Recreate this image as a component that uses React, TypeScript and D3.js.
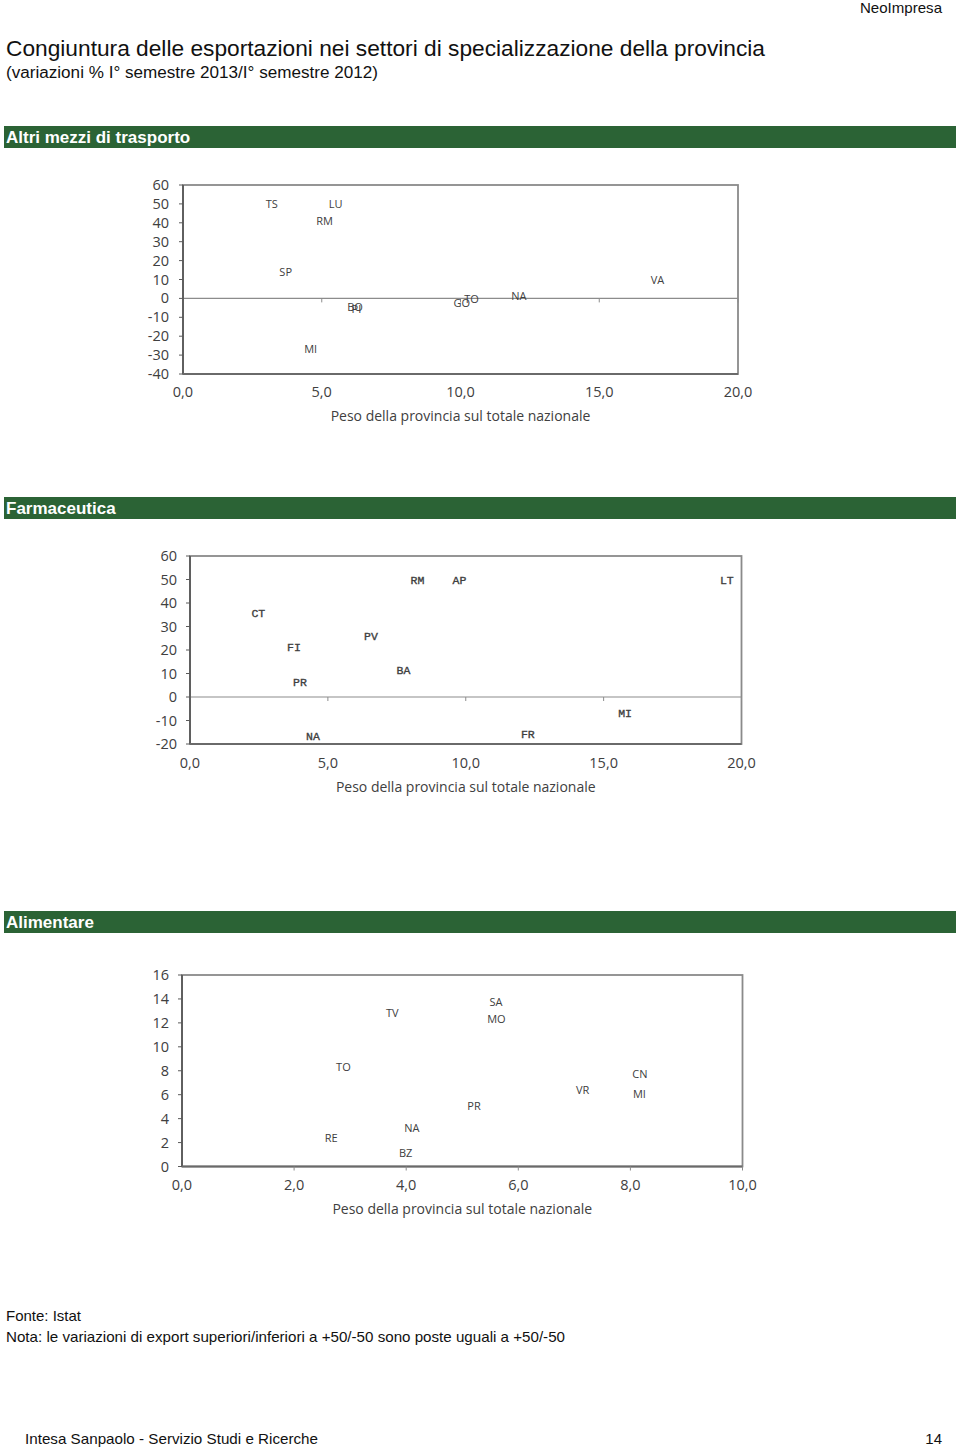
import React from "react";
import * as d3 from "d3";

// ---------- Data ----------
// Altri mezzi di trasporto
const trLabels = ["TS", "LU", "RM", "SP", "MI", "BO", "PI", "GO", "TO", "NA", "VA"];
const trX = [3.2, 5.5, 5.1, 3.7, 4.6, 6.2, 6.25, 10.05, 10.4, 12.1, 17.1];
const trY = [50, 50, 41, 14, -27, -4.4, -5.8, -2.6, -0.5, 1.3, 9.7];
const trYTicks = [60, 50, 40, 30, 20, 10, 0, -10, -20, -30, -40];
const trXTicks = [0, 5, 10, 15, 20];

// Farmaceutica
const faLabels = ["CT", "FI", "PR", "PV", "BA", "RM", "AP", "NA", "LT", "MI", "FR"];
const faX = [2.48, 3.77, 3.99, 6.56, 7.74, 8.25, 9.77, 4.46, 19.47, 15.78, 12.25];
const faY = [35.6, 21.1, 6.4, 25.9, 11.5, 50, 50, -16.7, 50, -6.7, -15.7];
const faYTicks = [60, 50, 40, 30, 20, 10, 0, -10, -20];
const faXTicks = [0, 5, 10, 15, 20];

// Alimentare
const alLabels = ["TV", "TO", "RE", "NA", "BZ", "SA", "MO", "PR", "VR", "CN", "MI"];
const alX = [3.75, 2.88, 2.66, 4.1, 3.99, 5.6, 5.61, 5.21, 7.15, 8.17, 8.16];
const alY = [12.8, 8.3, 2.37, 3.2, 1.12, 13.7, 12.3, 5.07, 6.34, 7.74, 6.07];
const alYTicks = [16, 14, 12, 10, 8, 6, 4, 2, 0];
const alXTicks = [0, 2, 4, 6, 8, 10];

const GREEN = "#2b6335";
const SANS = "'Liberation Sans', Arial, Helvetica, sans-serif";
const CHART_FONT = "'Open Sans', 'Noto Sans', sans-serif";
const fmtX = (v: number) => v.toFixed(1).replace(".", ",");

type ScatterProps = {
  left: number; right: number; top: number; bottom: number;
  xDomain: [number, number]; yDomain: [number, number];
  xTicks: number[]; yTicks: number[];
  labels: string[]; xs: number[]; ys: number[];
  labelFont: string; labelStroke?: number; labelSize: number;
  xTicksOnZero: boolean;
  titleY: number; tickLabelY: number; yLabelX: number;
};

function Scatter(p: ScatterProps) {
  const x = d3.scaleLinear().domain(p.xDomain).range([p.left, p.right]);
  const y = d3.scaleLinear().domain(p.yDomain).range([p.bottom, p.top]);
  const zeroY = y(0);
  const tickBase = p.xTicksOnZero ? zeroY : p.bottom;
  return (
    <g>
      <rect x={p.left} y={p.top} width={p.right - p.left} height={p.bottom - p.top}
        fill="none" stroke="#8a8a8a" strokeWidth={1.8} />
      {p.xTicksOnZero && (
        <line x1={p.left} x2={p.right} y1={zeroY} y2={zeroY} stroke="#8c8c8c" strokeWidth={1.2} />
      )}
      <line x1={p.left} x2={p.left} y1={p.top} y2={p.bottom} stroke="#5a5a5a" strokeWidth={1.8} />
      <line x1={p.left} x2={p.right} y1={p.bottom} y2={p.bottom} stroke="#6a6a6a" strokeWidth={1.8} />
      {p.yTicks.map((t) => (
        <g key={"yt" + t}>
          <line x1={p.left - 4} x2={p.left} y1={y(t)} y2={y(t)} stroke="#5a5a5a" strokeWidth={1} />
          <text x={p.yLabelX} y={y(t)} dy="0.35em" textAnchor="end" fontFamily={CHART_FONT}
            fontSize={14.5} fill="#404040">{t}</text>
        </g>
      ))}
      {p.xTicks.map((t) => (
        <g key={"xt" + t}>
          {t !== p.xDomain[0] && (
            <line x1={x(t)} x2={x(t)} y1={tickBase} y2={tickBase + 4} stroke="#8c8c8c" strokeWidth={1} />
          )}
          <text x={x(t)} y={p.tickLabelY} dy="0.35em" textAnchor="middle" fontFamily={CHART_FONT}
            fontSize={14.5} fill="#404040">{fmtX(t)}</text>
        </g>
      ))}
      <text x={(p.left + p.right) / 2} y={p.titleY} dy="0.35em" textAnchor="middle"
        fontFamily={CHART_FONT} fontSize={14} fill="#404040">Peso della provincia sul totale nazionale</text>
      {p.labels.map((l, i) => (
        <text key={"l" + i} x={x(p.xs[i])} y={y(p.ys[i])} dy="0.35em" textAnchor="middle"
          fontFamily={p.labelFont} fontSize={p.labelSize}
          stroke={p.labelStroke ? "#404040" : "none"} strokeWidth={p.labelStroke ?? 0}
          fill="#404040">{l}</text>
      ))}
    </g>
  );
}

function Band({ y, text }: { y: number; text: string }) {
  return (
    <g>
      <rect x={4} y={y} width={952} height={22} fill={GREEN} />
      <text x={6} y={y + 11} dy="0.36em" fontFamily={SANS} fontWeight="bold" fontSize={17} fill="#fff">{text}</text>
    </g>
  );
}

export default function App() {
  return (
    <div style={{ position: "absolute", left: 0, top: 0 }}>
      <svg width={960} height={1450} style={{ display: "block", background: "#fff" }}>
        <text x={942} y={13} textAnchor="end" fontFamily={SANS} fontSize={15} fill="#111"
          textLength={82} lengthAdjust="spacingAndGlyphs">NeoImpresa</text>
        <text x={6} y={56} fontFamily={SANS} fontSize={22} fill="#111"
          textLength={759} lengthAdjust="spacingAndGlyphs">Congiuntura delle esportazioni nei settori di specializzazione della provincia</text>
        <text x={6} y={78} fontFamily={SANS} fontSize={16} fill="#111"
          textLength={372} lengthAdjust="spacingAndGlyphs">(variazioni % I° semestre 2013/I° semestre 2012)</text>

        <Band y={126} text="Altri mezzi di trasporto" />
        <Scatter left={183} right={738} top={185} bottom={374}
          xDomain={[0, 20]} yDomain={[-40, 60]} xTicks={trXTicks} yTicks={trYTicks}
          labels={trLabels} xs={trX} ys={trY} labelFont={CHART_FONT} labelSize={11}
          xTicksOnZero={true} titleY={416} tickLabelY={392} yLabelX={169} />

        <Band y={497} text="Farmaceutica" />
        <Scatter left={190} right={741.5} top={556} bottom={744}
          xDomain={[0, 20]} yDomain={[-20, 60]} xTicks={faXTicks} yTicks={faYTicks}
          labels={faLabels} xs={faX} ys={faY}
          labelFont="'Liberation Mono', 'DejaVu Sans Mono', monospace" labelStroke={0.35} labelSize={11.5}
          xTicksOnZero={true} titleY={787} tickLabelY={763} yLabelX={177} />

        <Band y={911} text="Alimentare" />
        <Scatter left={182} right={742.5} top={975} bottom={1166.5}
          xDomain={[0, 10]} yDomain={[0, 16]} xTicks={alXTicks} yTicks={alYTicks}
          labels={alLabels} xs={alX} ys={alY} labelFont={CHART_FONT} labelSize={11}
          xTicksOnZero={false} titleY={1209} tickLabelY={1185} yLabelX={169} />

        <text x={6} y={1321} fontFamily={SANS} fontSize={15} fill="#111">Fonte: Istat</text>
        <text x={6} y={1342} fontFamily={SANS} fontSize={15} fill="#111"
          textLength={559} lengthAdjust="spacingAndGlyphs">Nota: le variazioni di export superiori/inferiori a +50/-50 sono poste uguali a +50/-50</text>
        <text x={25} y={1444} fontFamily={SANS} fontSize={15} fill="#111"
          textLength={293} lengthAdjust="spacingAndGlyphs">Intesa Sanpaolo - Servizio Studi e Ricerche</text>
        <text x={942} y={1444} textAnchor="end" fontFamily={SANS} fontSize={15} fill="#111">14</text>
      </svg>
    </div>
  );
}
